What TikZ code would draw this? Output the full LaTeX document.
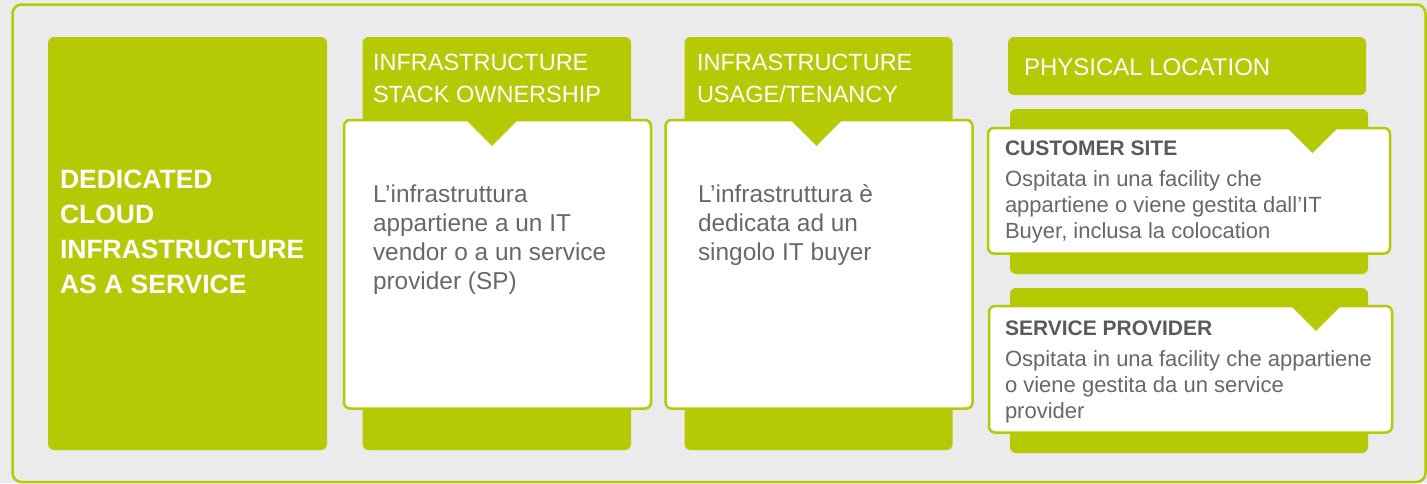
\documentclass[tikz,border=0pt]{standalone}
\usepackage{fontspec}
\setmainfont{Liberation Sans}
\definecolor{lime}{HTML}{B5C905}
\definecolor{bgc}{HTML}{EBEBEB}
\definecolor{bodytxt}{HTML}{686868}
\definecolor{titletxt}{HTML}{5A5A5A}
\newcommand{\lines}[4]{\parbox[t]{#1}{\raggedright\fontsize{#2}{#3}\selectfont #4}}
\begin{document}
\begin{tikzpicture}[x=1pt,y=-1pt,
  greenback/.style={fill=lime, rounded corners=6pt},
  whitebox/.style={fill=white, draw=lime, line width=2.5pt, rounded corners=6pt},
  notchtri/.style={fill=lime},
  lbl/.style={anchor=base west, inner sep=0pt, outer sep=0pt},
  headtxt/.style={lbl, text=white},
  bodyt/.style={lbl, text=bodytxt},
  titlet/.style={lbl, text=titletxt, font=\bfseries\fontsize{21}{25}\selectfont}]
\useasboundingbox (0,0) rectangle (1427,483);
\fill[bgc] (0,0) rectangle (1427,483);
\draw[lime, line width=2.5pt, rounded corners=9pt] (12.5,4.5) rectangle (1425.5,482);

% left box
\fill[greenback] (48,37) rectangle (327,450);
\node[headtxt] (title) at (60,188) {\bfseries\lines{265pt}{26.5}{35}{DEDICATED\\CLOUD\\INFRASTRUCTURE\\AS A SERVICE}};

% column 2
\fill[greenback] (362.5,37) rectangle (631,450);
\draw[whitebox] (344,120) rectangle (651,408.5);
\fill[notchtri] (465,118.8) -- (519,118.8) -- (492,146) -- cycle;
\node[headtxt] (h2) at (373,70) {\lines{260pt}{23.5}{32}{INFRASTRUCTURE\\STACK OWNERSHIP}};
\node[bodyt] (b2) at (373,202) {\lines{270pt}{24.4}{29}{L’infrastruttura\\appartiene a un IT\\vendor o a un service\\provider (SP)}};

% column 3
\fill[greenback] (684.5,37) rectangle (952.5,450);
\draw[whitebox] (665.5,120) rectangle (972.5,408.5);
\fill[notchtri] (789.5,118.8) -- (843.5,118.8) -- (816.5,146) -- cycle;
\node[headtxt] (h3) at (697,70) {\lines{260pt}{23.5}{32}{INFRASTRUCTURE\\USAGE/TENANCY}};
\node[bodyt] (b3) at (698,202) {\lines{270pt}{24.4}{29}{L’infrastruttura è\\dedicata ad un\\singolo IT buyer}};

% column 4 header
\fill[greenback] (1008,37) rectangle (1366,95);
\node[headtxt] (h4) at (1024,75) {\fontsize{24}{28}\selectfont PHYSICAL LOCATION};

% customer site
\fill[greenback] (1010,109) rectangle (1368,274);
\draw[whitebox] (988,128) rectangle (1390,253.5);
\fill[notchtri] (1286,126.8) -- (1339,126.8) -- (1312.5,153) -- cycle;
\node[titlet] (t1) at (1005,155) {CUSTOMER SITE};
\node[bodyt] (d1) at (1005,186.5) {\lines{380pt}{22}{26}{Ospitata in una facility che\\appartiene o viene gestita dall’IT\\Buyer, inclusa la colocation}};

% service provider
\fill[greenback] (1010,288) rectangle (1368,453);
\draw[whitebox] (989,306) rectangle (1392,432.5);
\fill[notchtri] (1290,304.8) -- (1342,304.8) -- (1316,331) -- cycle;
\node[titlet] (t2) at (1005,335) {SERVICE PROVIDER};
\node[bodyt] (d2) at (1005,366.5) {\lines{380pt}{22}{26}{Ospitata in una facility che appartiene\\o viene gestita da un service\\provider}};
\end{tikzpicture}
\end{document}
